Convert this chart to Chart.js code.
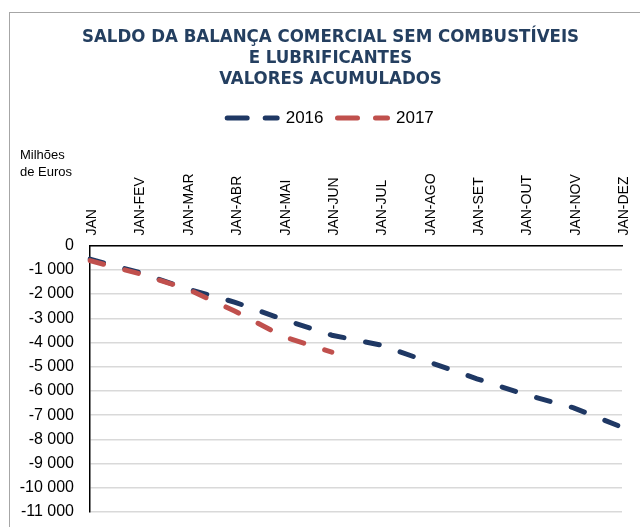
<!DOCTYPE html>
<html>
<head>
<meta charset="utf-8">
<script src="https://cdn.jsdelivr.net/npm/chart.js@4/dist/chart.umd.min.js"></script>
<style>
  body { margin: 0; background: #fff; overflow: hidden; }
</style>
</head>
<body>
<canvas id="chart" width="640" height="527"></canvas>
<script>
const meses = ['JAN', 'JAN-FEV', 'JAN-MAR', 'JAN-ABR', 'JAN-MAI', 'JAN-JUN',
  'JAN-JUL', 'JAN-AGO', 'JAN-SET', 'JAN-OUT', 'JAN-NOV', 'JAN-DEZ'];
const saldo2016 = [-560, -1100, -1780, -2340, -3050, -3700, -4100, -4800, -5500, -6150, -6700, -7500];
const saldo2017 = [-620, -1150, -1780, -2710, -3760, -4400];
const titulo = ['SALDO DA BALANÇA COMERCIAL SEM COMBUSTÍVEIS', 'E LUBRIFICANTES', 'VALORES ACUMULADOS'];

const azul = '#1f3864';
const vermelho = '#c0504d';

function formata(v) {
  const s = Math.abs(v).toString().replace(/\B(?=(\d{3})+(?!\d))/g, ' ');
  return (v < 0 ? '-' : '') + s;
}

// moldura e unidade
const extras = {
  id: 'extras',
  beforeDraw(chart) {
    const ctx = chart.ctx;
    ctx.save();
    ctx.strokeStyle = '#a6a6a6';
    ctx.lineWidth = 1;
    ctx.strokeRect(9.5, 12.5, 700, 600);
    ctx.restore();
  },
  afterDraw(chart) {
    const ctx = chart.ctx;
    ctx.save();
    ctx.fillStyle = '#000';
    ctx.font = '13px "Liberation Sans"';
    ctx.textAlign = 'left';
    ctx.fillText('Milhões', 20, 155);
    ctx.fillText('de Euros', 20, 172);
    ctx.restore();
  }
};

const ctx = document.getElementById('chart');
new Chart(ctx, {
  type: 'line',
  data: {
    labels: meses,
    datasets: [{
      label: '2016',
      data: saldo2016,
      borderColor: azul,
      backgroundColor: azul,
      borderWidth: 5,
      borderDash: [14, 22],
      borderCapStyle: 'round',
      pointRadius: 0,
      tension: 0,
      order: 1
    }, {
      label: '2017',
      data: saldo2017,
      borderColor: vermelho,
      backgroundColor: vermelho,
      borderWidth: 5,
      borderDash: [14, 22],
      borderCapStyle: 'round',
      pointRadius: 0,
      tension: 0,
      order: 0
    }]
  },
  options: {
    responsive: false,
    animation: false,
    devicePixelRatio: 1,
    layout: { padding: { top: 0, left: 39, right: 18, bottom: 15 } },
    plugins: {
      tooltip: { enabled: false },
      title: {
        display: true,
        text: titulo,
        color: '#243f60',
        font: { family: '"DejaVu Sans Condensed", "DejaVu Sans"', weight: 'bold', size: 18.5, lineHeight: 1.16 },
        padding: { top: 26, bottom: 5 }
      },
      legend: {
        labels: {
          color: '#000',
          font: { family: '"Liberation Sans"', size: 17 },
          usePointStyle: true,
          pointStyle: 'line',
          pointStyleWidth: 50,
          padding: 14,
          sort: (a, b) => a.datasetIndex - b.datasetIndex,
          generateLabels(chart) {
            const items = Chart.defaults.plugins.legend.labels.generateLabels(chart);
            items.forEach(it => { it.lineDash = [20, 18]; it.lineCap = 'round'; });
            return items;
          }
        }
      }
    },
    scales: {
      x: {
        position: 'top',
        grid: { display: false, drawTicks: false },
        border: { color: '#000', width: 1.5 },
        ticks: {
          color: '#000',
          font: { family: '"Liberation Sans"', size: 14 },
          minRotation: 90,
          maxRotation: 90,
          autoSkip: false,
          padding: 10,
          labelOffset: 19
        },
        afterFit(scale) { scale.height += 27; }
      },
      y: {
        min: -11000,
        max: 0,
        grid: { color: '#d9d9d9', lineWidth: 1.5, drawTicks: false },
        border: { color: '#000', width: 1.5 },
        ticks: {
          stepSize: 1000,
          color: '#000',
          font: { family: '"Liberation Sans"', size: 16 },
          padding: 16,
          callback: v => formata(v)
        },
        afterFit(scale) {
          scale.width = 51;
          scale.paddingTop = 0;
          scale.paddingBottom = 0;
          // deixa os rótulos passar para a margem esquerda
          scale._computeLabelArea = () => undefined;
        }
      }
    }
  },
  plugins: [extras]
});
</script>
</body>
</html>
